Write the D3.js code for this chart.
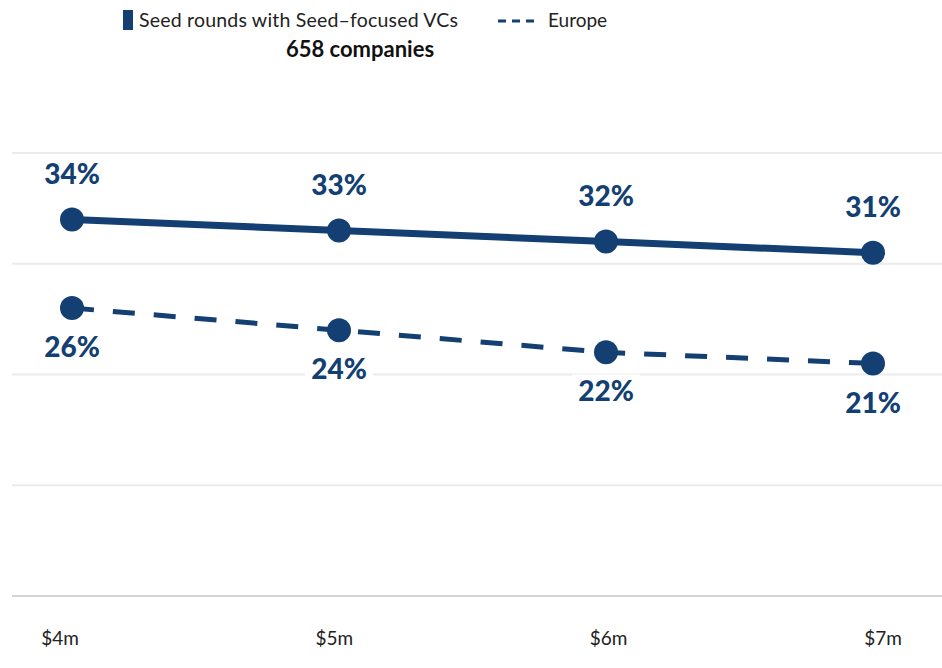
<!DOCTYPE html>
<html lang="en">
<head>
    <meta charset="utf-8">
    <script src="https://cdn.jsdelivr.net/npm/d3@7"></script>
    <style type="text/css">
        body { margin: 0; background: #fff; }
        text { font-family: Lato, "Noto Sans", sans-serif; }
    </style>
</head>
<body>
<script>
    var categories = ['$4m', '$5m', '$6m', '$7m'];
    var seedVCs = [34, 33, 32, 31];
    var europe = [26, 24, 22, 21];
    var yTicks = [0, 10, 20, 30, 40];

    var color = '#133f72';
    var width = 942, height = 668;

    var svg = d3.select('body')
            .append('svg')
            .attr('width', width)
            .attr('height', height);

    var x = d3.scalePoint().domain(categories).range([72, 873]);
    var xLabel = d3.scalePoint().domain(categories).range([60, 883]);
    var y = d3.scaleLinear().domain([0, 40]).range([596, 153]);

    // gridlines
    svg.selectAll('line.grid')
            .data(yTicks)
            .enter()
            .append('line')
            .attr('class', 'grid')
            .attr('x1', 12)
            .attr('x2', width)
            .attr('y1', function (d) { return y(d); })
            .attr('y2', function (d) { return y(d); })
            .style('stroke', function (d) { return d === 0 ? '#d4d4d4' : '#ebebeb'; })
            .style('stroke-width', 2);

    // x labels
    svg.selectAll('text.xlab')
            .data(categories)
            .enter()
            .append('text')
            .attr('class', 'xlab')
            .attr('x', function (d) { return xLabel(d); })
            .attr('y', 645)
            .attr('text-anchor', 'middle')
            .style('font-size', '19px')
            .style('fill', '#222')
            .text(function (d) { return d; });

    function drawSeries(values, dashed, labelDy) {
        var pts = values.map(function (v, i) { return { c: categories[i], v: v }; });
        var line = d3.line()
                .x(function (d) { return x(d.c); })
                .y(function (d) { return y(d.v); });

        // labels with white background
        var lab = svg.append('g').selectAll('g')
                .data(pts)
                .enter()
                .append('g')
                .attr('transform', function (d) {
                    return 'translate(' + x(d.c) + ',' + (y(d.v) + labelDy) + ')';
                });
        lab.append('rect')
                .attr('x', -34)
                .attr('y', -17)
                .attr('width', 68)
                .attr('height', 34)
                .style('fill', '#fff');
        lab.append('text')
                .attr('text-anchor', 'middle')
                .attr('dy', '0.36em')
                .style('font-size', '28px')
                .style('font-weight', 900)
                .style('fill', color)
                .text(function (d) { return d.v + '%'; });

        svg.append('path')
                .datum(pts)
                .attr('d', line)
                .style('fill', 'none')
                .style('stroke', color)
                .style('stroke-width', dashed ? 5 : 7)
                .style('stroke-dasharray', dashed ? '22,19' : null);

        svg.append('g').selectAll('circle')
                .data(pts)
                .enter()
                .append('circle')
                .attr('cx', function (d) { return x(d.c); })
                .attr('cy', function (d) { return y(d.v); })
                .attr('r', 12)
                .style('fill', color);
    }

    drawSeries(seedVCs, false, -46);
    drawSeries(europe, true, 39);

    // legend
    var legend = svg.append('g');
    legend.append('rect')
            .attr('x', 123)
            .attr('y', 10)
            .attr('width', 10)
            .attr('height', 20)
            .style('fill', color);
    legend.append('text')
            .attr('x', 139)
            .attr('y', 27)
            .style('font-size', '19.5px')
            .attr('textLength', 319)
            .text('Seed rounds with Seed\u2013focused VCs')
            .style('fill', '#222');
    legend.append('line')
            .attr('x1', 498)
            .attr('x2', 538)
            .attr('y1', 21)
            .attr('y2', 21)
            .style('stroke', color)
            .style('stroke-width', 3)
            .style('stroke-dasharray', '8,6');
    legend.append('text')
            .attr('x', 548)
            .attr('y', 27)
            .style('font-size', '19px')
            .style('fill', '#222')
            .text('Europe');
    legend.append('text')
            .attr('x', 360)
            .attr('y', 57)
            .attr('text-anchor', 'middle')
            .style('font-size', '22px')
            .style('font-weight', 'bold')
            .style('fill', '#111')
            .text('658 companies');
</script>
</body>
</html>
